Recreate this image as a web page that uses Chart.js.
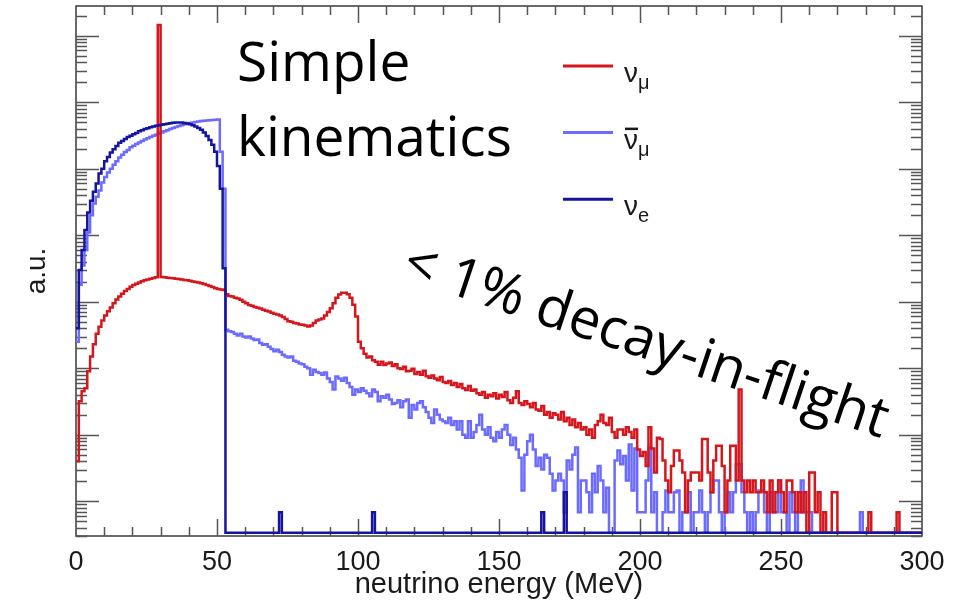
<!DOCTYPE html>
<html>
<head>
<meta charset="utf-8">
<title>Neutrino energy spectra</title>
<script src="https://cdn.jsdelivr.net/npm/chart.js@4.4.1/dist/chart.umd.min.js"></script>
<style>
  html, body { margin: 0; padding: 0; background: #fff; }
  canvas { display: block; }
</style>
</head>
<body>
<canvas id="spectrum" width="957" height="606"></canvas>
<script>
// 1 MeV bins starting at 0 MeV, values in arbitrary units (log axis)
const binWidth = 1;
const xTickLabels = [0, 50, 100, 150, 200, 250, 300];
const yMin = 0.335;
const yMax = 2.8e7;

// nu_mu (red)
const numu = [
  4, 32, 45, 50, 90, 150, 230, 330, 420, 520,                                  // 0
  620, 720, 820, 950, 1080, 1200, 1320, 1450, 1560, 1680,                      // 10
  1780, 1870, 1950, 2030, 2100, 2160, 2220, 2280, 2330, 14500000,              // 20
  2350, 2330, 2300, 2280, 2250, 2220, 2190, 2160, 2130, 2100,                  // 30
  2060, 2020, 1980, 1940, 1900, 1850, 1780, 1720, 1660, 1600,                  // 40
  1560, 1530, 1500, 1300, 1220, 1200, 1150, 1120, 1070, 1000,                  // 50
  950, 890, 870, 830, 810, 790, 760, 730, 710, 680,                            // 60
  660, 640, 620, 590, 550, 510, 500, 480, 470, 455,                            // 70
  450, 440, 425, 440, 480, 520, 540, 560, 620, 700,                            // 80
  800, 950, 1150, 1280, 1360, 1370, 1300, 1150, 900, 600,                      // 90
  250, 200, 165, 145, 150, 132, 125, 113, 125, 112,                            // 100
  118, 122, 108, 115, 100, 97, 105, 90, 92, 98,                                // 110
  82, 88, 80, 92, 76, 72, 78, 70, 66, 74,                                      // 120
  62, 60, 64, 56, 60, 52, 58, 50, 47, 54,                                      // 130
  46, 48, 42, 40, 44, 36, 40, 38, 42, 35,                                      // 140
  40, 37, 44, 33, 30, 36, 45, 30, 28, 32,                                      // 150
  29, 26, 30, 24, 23, 27, 20, 22, 18, 21,                                      // 160
  20, 17, 22, 16, 18, 14, 17, 13, 15, 12,                                      // 170
  13, 10, 12, 9, 14, 16, 20, 15, 14, 18,                                       // 180
  11, 9, 12, 12, 10, 13, 11, 9, 12, 6,                                         // 190
  4.8, 5.5, 3.4, 13, 6.2, 2.7, 9, 8.6, 4.1, 2.05,                              // 200
  1.37, 3.4, 5.8, 5.8, 4.1, 2.7, 0.68, 2.05, 2.7, 2.7,                         // 210
  2.7, 2.05, 8.6, 8.6, 2.7, 1.37, 4.1, 6.8, 6.8, 3.4,                          // 220
  0.68, 2.05, 6.8, 6.8, 2.05, 48, 2.05, 1.37, 2.05, 1.37,                      // 230
  2.05, 1.37, 1.37, 2.05, 1.37, 0.68, 2.05, 0.68, 1.37, 2.05,                  // 240
  1.37, 0.68, 2.05, 2.05, 1.37, 0.68, 1.37, 0.68, 1.37, 0,                     // 250
  2.7, 2.7, 0.68, 1.37, 0, 0.68, 0, 0, 1.37, 1.37,                             // 260
  0, 0, 0, 0, 0, 0, 0, 0, 0, 0,                                                // 270
  0, 0.68, 0, 0, 0, 0, 0, 0, 0, 0,                                             // 280
  0, 0.68, 0, 0, 0, 0, 0, 0, 0, 0                                              // 290
];

// anti nu_mu (light blue)
const antiNumu = [
  250, 1800, 3500, 6000, 11000, 20000, 30000, 38000, 47000, 62000,            // 0
  75000, 88000, 100000, 115000, 130000, 148000, 162000, 178000, 192000, 210000, // 10
  222000, 235000, 248000, 262000, 275000, 288000, 300000, 312000, 325000, 340000, // 20
  352000, 365000, 380000, 395000, 410000, 425000, 440000, 452000, 465000, 478000, // 30
  488000, 496000, 505000, 512000, 520000, 526000, 532000, 538000, 542000, 546000, // 40
  550000, 180000, 50000, 380, 360, 350, 330, 310, 330, 300,                    // 50
  290, 300, 280, 265, 270, 240, 225, 230, 210, 195,                            // 60
  180, 190, 175, 160, 150, 145, 150, 130, 125, 118,                            // 70
  115, 105, 100, 80, 95, 88, 85, 80, 86, 70,                                   // 80
  62, 48, 75, 70, 65, 72, 60, 52, 40, 48,                                      // 90
  44, 50, 46, 42, 38, 48, 44, 32, 38, 36,                                      // 100
  40, 34, 29, 30, 33, 26, 32, 34, 18, 28,                                      // 110
  24, 30, 32, 26, 22, 18, 15, 24, 20, 17,                                      // 120
  16, 15, 18, 14, 16, 12, 16, 10, 9, 16,                                       // 130
  9, 11, 14, 20, 12, 10, 13, 9, 8, 11,                                         // 140
  9, 12, 14, 10, 7, 9, 6, 4.5, 1.45, 5,                                        // 150
  8, 10, 6, 3.4, 4.5, 3, 5, 4.5, 2.6, 1.45,                                    // 160
  2.05, 2.6, 2.05, 0.68, 4.1, 3, 5, 6.4, 0.68, 2.05,                           // 170
  2.05, 1.37, 0.68, 2.6, 1.37, 3.4, 2.05, 0.68, 1.6, 0,                        // 180
  0, 4.1, 5.8, 3.6, 4.8, 2.05, 7.1, 1.45, 6.2, 0.68,                           // 190
  0.68, 0.68, 2.05, 6.4, 0.68, 1.37, 0, 0, 0.68, 1.45,                         // 200
  0.68, 0.68, 1.37, 1.45, 0, 0.68, 0.68, 1.37, 0, 0.68,                        // 210
  0.68, 1.45, 0.68, 0, 0.68, 1.37, 2.05, 2.05, 0.68, 0,                        // 220
  0.68, 1.37, 0.68, 1.37, 3.6, 3.6, 1.37, 0.68, 0, 0.68,                       // 230
  0, 0.68, 1.45, 1.45, 0.68, 0, 1.37, 0.68, 0.68, 2.05,                        // 240
  0.68, 0.68, 0, 1.37, 0.68, 0, 0.68, 2.05, 0.68, 0.68,                        // 250
  0.68, 0, 0, 0, 0, 0, 0, 0, 0, 0,                                             // 260
  0, 0, 0, 0, 0, 0, 0, 0, 0.68, 0,                                             // 270
  0, 0, 0, 0, 0, 0, 0, 0, 0, 0,                                                // 280
  0, 0, 0, 0, 0, 0, 0, 0, 0, 0                                                 // 290
];

// nu_e (dark blue)
const nue = [
  400, 3000, 6000, 12000, 22000, 33000, 45000, 60000, 85000, 100000,          // 0
  130000, 150000, 175000, 196000, 220000, 245000, 262000, 280000, 300000, 312000, // 10
  330000, 345000, 365000, 380000, 395000, 408000, 420000, 432000, 442000, 452000, // 20
  460000, 468000, 476000, 484000, 490000, 494000, 495000, 494000, 488000, 478000, // 30
  466000, 450000, 430000, 410000, 385000, 350000, 310000, 270000, 230000, 180000, // 40
  110000, 50000, 3200, 0, 0, 0, 0, 0, 0, 0,                                    // 50
  0, 0, 0, 0, 0, 0, 0, 0, 0, 0,                                                // 60
  0, 0, 0.68, 0, 0, 0, 0, 0, 0, 0,                                             // 70
  0, 0, 0, 0, 0, 0, 0, 0, 0, 0,                                                // 80
  0, 0, 0, 0, 0, 0, 0, 0, 0, 0,                                                // 90
  0, 0, 0, 0, 0, 0.68, 0, 0, 0, 0,                                             // 100
  0, 0, 0, 0, 0, 0, 0, 0, 0, 0,                                                // 110
  0, 0, 0, 0, 0, 0, 0, 0, 0, 0,                                                // 120
  0, 0, 0, 0, 0, 0, 0, 0, 0, 0,                                                // 130
  0, 0, 0, 0, 0, 0, 0, 0, 0, 0,                                                // 140
  0, 0, 0, 0, 0, 0, 0, 0, 0, 0,                                                // 150
  0, 0, 0, 0, 0, 0.68, 0, 0, 0, 0,                                             // 160
  0, 0, 0, 1.37, 0, 0, 0, 0, 0, 0,                                             // 170
  0, 0, 0, 0, 0, 0, 0, 0, 0, 0,                                                // 180
  0, 0, 0, 0, 0, 0, 0, 0, 0, 0,                                                // 190
  0, 0, 0, 0, 0, 0, 0, 0, 0, 0,                                                // 200
  0, 0, 0, 0, 0, 0, 0, 0, 0, 0,                                                // 210
  0, 0, 0, 0, 0, 0, 0, 0, 0, 0,                                                // 220
  0, 0, 0, 0, 0, 0, 0, 0, 0, 0,                                                // 230
  0, 0, 0, 0, 0, 0, 0, 0, 0, 0,                                                // 240
  0, 0, 0, 0, 0, 0, 0, 0, 0, 0,                                                // 250
  0, 0, 0, 0, 0, 0, 0, 0, 0, 0,                                                // 260
  0, 0, 0, 0, 0, 0, 0, 0, 0, 0,                                                // 270
  0, 0, 0, 0, 0, 0, 0, 0, 0, 0,                                                // 280
  0, 0, 0, 0, 0, 0, 0, 0, 0, 0                                                 // 290
];

const binEdges = numu.map((_, i) => i * binWidth);

const red = '#d3171d';
const lightBlue = '#6b6bff';
const darkBlue = '#14149e';
const axisFont = '"Liberation Sans", Arial, sans-serif';
const noteFont = '"Open Sans", sans-serif';

// histogram as steps: one point per lower bin edge plus the closing edge,
// empty bins sit on the bottom of the log axis like ROOT does
function steps(values) {
  const pts = values.map((v, i) => ({ x: binEdges[i], y: v > 0 ? v : yMin }));
  pts.push({ x: binEdges[values.length - 1] + binWidth, y: pts[pts.length - 1].y });
  return pts;
}

// frame plus inward tick marks on all four sides
const framePlugin = {
  id: 'frame',
  beforeDatasetsDraw(chart) {
    const { ctx, chartArea: a, scales: { x, y } } = chart;
    ctx.save();
    ctx.strokeStyle = '#3a3a3a';
    ctx.lineWidth = 1.5;
    ctx.strokeRect(a.left, a.top, a.right - a.left, a.bottom - a.top);
    ctx.strokeStyle = '#555';
    ctx.lineWidth = 1.5;
    ctx.beginPath();
    for (let e = 10; e < 300; e += 10) {
      const px = Math.round(x.getPixelForValue(e)) + 0.5;
      const len = e % 50 === 0 ? 17 : 9;
      ctx.moveTo(px, a.bottom); ctx.lineTo(px, a.bottom - len);
      ctx.moveTo(px, a.top); ctx.lineTo(px, a.top + len);
    }
    for (let p = -1; p <= 7; p++) {
      for (let m = 1; m <= 9; m++) {
        const v = m * Math.pow(10, p);
        if (v <= y.min || v >= y.max) continue;
        const py = Math.round(y.getPixelForValue(v)) + 0.5;
        const len = m === 1 ? 23 : 11;
        ctx.moveTo(a.left, py); ctx.lineTo(a.left + len, py);
        ctx.moveTo(a.right, py); ctx.lineTo(a.right - len, py);
      }
    }
    ctx.stroke();
    ctx.restore();
  }
};

// legend with nu symbols and the slide annotations
const notesPlugin = {
  id: 'notes',
  afterDraw(chart) {
    const { ctx } = chart;
    const rows = [
      { color: red, sub: 'μ', bar: false },
      { color: lightBlue, sub: 'μ', bar: true },
      { color: darkBlue, sub: 'e', bar: false }
    ];
    ctx.save();
    rows.forEach((r, i) => {
      const ly = 66 + i * 66.6;
      ctx.strokeStyle = r.color;
      ctx.lineWidth = 3;
      ctx.beginPath();
      ctx.moveTo(563, ly);
      ctx.lineTo(613, ly);
      ctx.stroke();
      ctx.fillStyle = '#1a1a1a';
      ctx.font = '28px ' + axisFont;
      ctx.fillText('ν', 624, ly + 16);
      const w = ctx.measureText('ν').width;
      if (r.bar) ctx.fillRect(625, ly - 5, w - 1, 2.5);
      ctx.font = '20px ' + axisFont;
      ctx.fillText(r.sub, 624 + w, ly + 23);
    });

    ctx.fillStyle = '#000';
    ctx.font = '55px ' + noteFont;
    ctx.fillText('Simple', 237, 81);
    ctx.fillText('kinematics', 237, 156);

    ctx.translate(400, 277);
    ctx.rotate(18.5 * Math.PI / 180);
    ctx.font = '56px ' + noteFont;
    ctx.fillText('< 1% decay-in-flight', 0, 0);
    ctx.restore();
  }
};

new Chart(document.getElementById('spectrum'), {
  type: 'line',
  data: {
    datasets: [
      { label: 'ν_e', data: steps(nue), borderColor: darkBlue, order: 0 },
      { label: 'ν_μ', data: steps(numu), borderColor: red, order: 1 },
      { label: 'anti ν_μ', data: steps(antiNumu), borderColor: lightBlue, order: 2 }
    ]
  },
  options: {
    responsive: false,
    animation: false,
    events: [],
    datasets: {
      line: { stepped: true, borderWidth: 2.5, pointRadius: 0, fill: false }
    },
    layout: { padding: { top: 6, right: 35, left: 0, bottom: 0 } },
    plugins: {
      legend: { display: false },
      tooltip: { enabled: false }
    },
    scales: {
      x: {
        type: 'linear',
        min: 0,
        max: 300,
        afterBuildTicks: (scale) => { scale.ticks = xTickLabels.map(v => ({ value: v })); },
        afterFit: (scale) => { scale.height = 70; },
        grid: { display: false, drawTicks: false },
        border: { display: false },
        ticks: {
          padding: 10,
          maxRotation: 0,
          autoSkip: false,
          color: '#1a1a1a',
          font: { family: axisFont, size: 27 }
        },
        title: {
          display: true,
          text: 'neutrino energy (MeV)',
          color: '#1a1a1a',
          font: { family: axisFont, size: 29 },
          padding: { top: 0, bottom: 4 }
        }
      },
      y: {
        type: 'logarithmic',
        min: yMin,
        max: yMax,
        afterFit: (scale) => { scale.width = 76; },
        grid: { display: false, drawTicks: false },
        border: { display: false },
        ticks: { display: false },
        title: {
          display: true,
          text: 'a.u.',
          color: '#1a1a1a',
          font: { family: axisFont, size: 28 },
          padding: { top: 20, bottom: 0 }
        }
      }
    }
  },
  plugins: [framePlugin, notesPlugin]
});
</script>
</body>
</html>
